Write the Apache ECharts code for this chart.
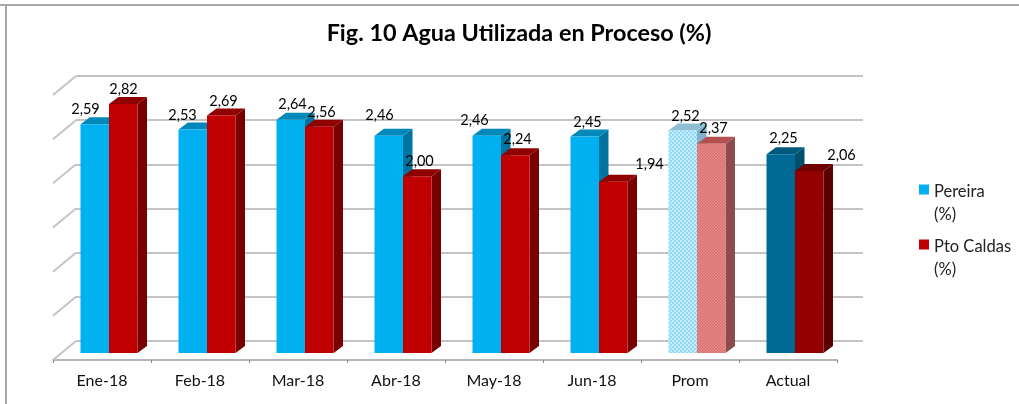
<!DOCTYPE html>
<html><head><meta charset="utf-8">
<style>html,body{margin:0;padding:0;background:#fff}#c{width:1019px;height:404px;filter:blur(0.5px)}</style>
<script src="https://cdn.jsdelivr.net/npm/echarts@6/dist/echarts.min.js"></script>
</head><body><div id="c"></div>
<script>
const categories = ['Ene-18','Feb-18','Mar-18','Abr-18','May-18','Jun-18','Prom','Actual'];
const pereira = [2.59,2.53,2.64,2.46,2.46,2.45,2.52,2.25];
const ptoCaldas = [2.82,2.69,2.56,2.00,2.24,1.94,2.37,2.06];
const axisTicks = [0,0.5,1,1.5,2,2.5,3];
// label nudges relative to the top of each bar (dx, dy)
const pereiraLabelOffset = [[-23.5,-14.5],[-24.5,-14.5],[-12.5,-15.5],[-23.5,-20],[-26.5,-15.5],[-11.5,-14.5],[-11.5,-14.5],[-11.5,-15.5]];
const caldasLabelOffset = [[14.5,-14.5],[16.5,-14.5],[16.5,-14.5],[16.5,-15.5],[16.5,-15.5],[50.5,-17.5],[16.5,-15.5],[46.5,-15.5]];

function pattern(bg, fg, cell){
  const c=document.createElement('canvas');c.width=cell;c.height=cell;
  const g=c.getContext('2d');g.fillStyle=bg;g.fillRect(0,0,cell,cell);
  g.fillStyle=fg;g.fillRect(0,0,cell/2,cell/2);g.fillRect(cell/2,cell/2,cell/2,cell/2);
  return {image:c,repeat:'repeat'};
}
const blueLook = {front:'#00b0f0',top:'#0088bb',side:'#00749f'};
const redLook = {front:'#c00000',top:'#8f0000',side:'#780000'};
const promBlue = {front:pattern('#8fd8f8','#c4ecfc',4),top:'#8fbdd4',side:'#7fb2cc'};
const promRed = {front:pattern('#d96a6a','#e89090',3),top:'#b45050',side:'#8f4a4a'};
const actualBlue = {front:'#006a94',top:'#005a7e',side:'#004f6e'};
const actualRed = {front:'#930000',top:'#700000',side:'#5a0000'};
const pereiraLooks = [blueLook,blueLook,blueLook,blueLook,blueLook,blueLook,promBlue,actualBlue];
const caldasLooks = [redLook,redLook,redLook,redLook,redLook,redLook,promRed,actualRed];

const BAR_W=28.5, DX=9.5, DY=7, SHIFT=7, LIFT=7;
function barRenderer(side, looks, offsets){
  return function(params, api){
    const i=api.value(0), v=api.value(1);
    const p=api.coord([i,v]), b=api.coord([i,0]);
    const x=p[0]+SHIFT+(side<0?-BAR_W:0), y=p[1]-LIFT, base=b[1]-LIFT, w=BAR_W;
    const L=looks[i], o=offsets[i];
    return {type:'group',children:[
      {type:'polygon',shape:{points:[[x+w,y],[x+w+DX,y-DY],[x+w+DX,base-DY],[x+w,base]]},style:{fill:L.side}},
      {type:'polygon',shape:{points:[[x,y],[x+w,y],[x+w+DX,y-DY],[x+DX,y-DY]]},style:{fill:L.top}},
      {type:'rect',shape:{x:x,y:y,width:w,height:base-y},style:{fill:L.front}},
      {type:'text',z2:50,style:{x:p[0]+SHIFT+o[0],y:y+o[1],text:v.toFixed(2).replace('.',','),
        font:'14.5px Lato',fill:'#000',align:'center',verticalAlign:'middle'}}
    ]};
  };
}
const chart=echarts.init(document.getElementById('c'));
chart.setOption({
  animation:false,backgroundColor:'#fff',
  title:{text:'Fig. 10 Agua Utilizada en Proceso (%)',left:514,top:17,textAlign:'center',
    textStyle:{fontFamily:'Lato',fontWeight:'bold',fontSize:23.4,color:'#000'}},
  legend:{orient:'vertical',left:914,top:175.5,itemGap:9,itemWidth:10,itemHeight:46,
    icon:'path://M0 8h10v10h-10z M0 46L0 46',
    data:['Pereira (%)','Pto Caldas (%)'],
    formatter:function(n){return n.replace(' (%)','\n(%)');},
    textStyle:{fontFamily:'Lato',fontSize:16.5,color:'#222',lineHeight:23,align:'left'}},
  grid:[
    {left:53,width:784,top:95,height:265},
    {left:76,width:787,top:76,height:265}
  ],
  xAxis:[
    {gridIndex:0,type:'category',data:categories,boundaryGap:true,
     axisLine:{lineStyle:{color:'#b5b5b5',width:2}},
     axisTick:{show:true,length:3,lineStyle:{color:'#8a8a8a',width:1}},
     axisLabel:{fontFamily:'Lato',fontSize:16,color:'#111',margin:13}},
    {gridIndex:1,type:'category',data:categories,show:false}
  ],
  yAxis:[
    {gridIndex:0,type:'value',min:0,max:3,interval:0.5,show:false},
    {gridIndex:1,type:'value',min:0,max:3,interval:0.5,axisLine:{show:false},axisTick:{show:false},
     axisLabel:{show:false},splitLine:{show:true,lineStyle:{color:'#c4c4c4',width:2}}}
  ],
  graphic:[
    {type:'line',shape:{x1:0,y1:5,x2:1019,y2:5},style:{stroke:'#a8a8a8',lineWidth:2}},
    {type:'line',shape:{x1:6,y1:4,x2:6,y2:404},style:{stroke:'#a8a8a8',lineWidth:2}}
  ],
  series:[
    {type:'custom',name:'walls',xAxisIndex:0,yAxisIndex:0,silent:true,z:1,
     data:axisTicks.map(v=>[0,v]),
     renderItem:function(params,api){
       const p=api.coord([0,api.value(1)]), x=params.coordSys.x;
       return {type:'line',shape:{x1:x,y1:p[1],x2:x+23,y2:p[1]-19},style:{stroke:'#c4c4c4',lineWidth:2}};
     }},
    {type:'custom',name:'Pereira (%)',xAxisIndex:0,yAxisIndex:0,z:3,itemStyle:{color:'#00b0f0'},
     data:pereira.map((v,i)=>[i,v]),encode:{x:0,y:1},
     renderItem:barRenderer(-1,pereiraLooks,pereiraLabelOffset)},
    {type:'custom',name:'Pto Caldas (%)',xAxisIndex:0,yAxisIndex:0,z:4,itemStyle:{color:'#c00000'},
     data:ptoCaldas.map((v,i)=>[i,v]),encode:{x:0,y:1},
     renderItem:barRenderer(1,caldasLooks,caldasLabelOffset)}
  ]
});
</script></body></html>
